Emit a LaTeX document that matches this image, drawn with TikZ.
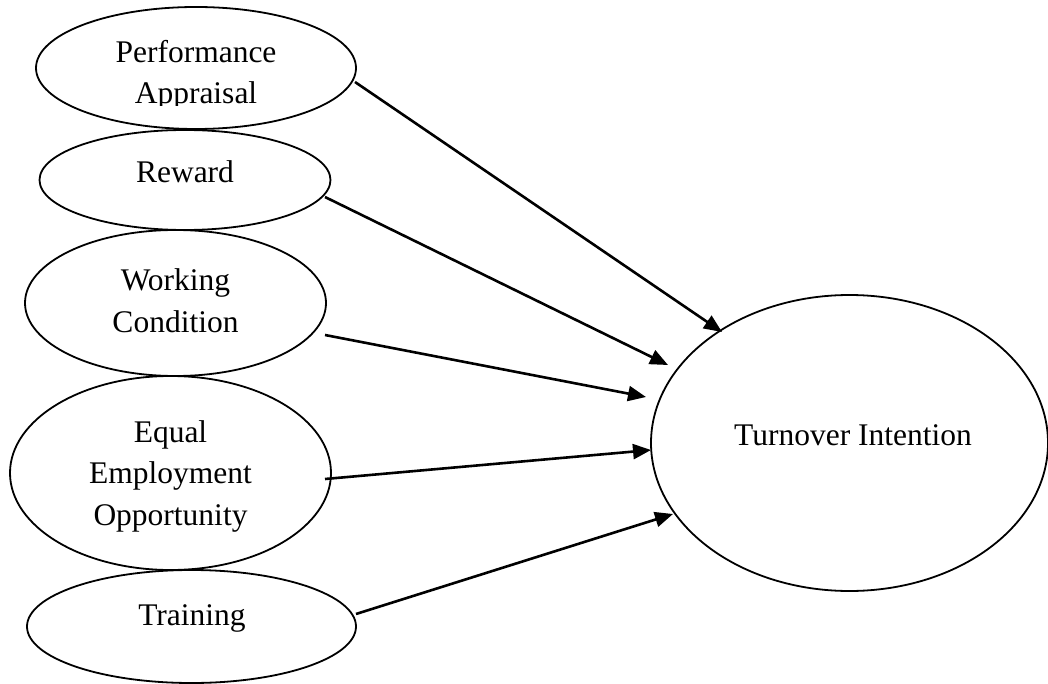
\documentclass[tikz,border=0pt]{standalone}
\usepackage{fontspec}
\setmainfont{Liberation Serif}
\usetikzlibrary{shapes.geometric,arrows.meta}
\begin{document}
\begin{tikzpicture}[x=1pt,y=-1pt,
  ell/.style={draw,ellipse,line width=1.8pt,inner sep=0pt,fill=white},
  lbl/.style={font=\fontsize{31.5}{41.5}\selectfont,align=center,anchor=base,inner sep=0pt},
  conn/.style={line width=2.6pt,-{Triangle[length=18pt,width=15pt]}}]
\useasboundingbox[fill=white] (0,0) rectangle (1048,684);
% ellipses
\node[ell,minimum width=320pt,minimum height=122pt] (pa) at (196,68) {};
\node[ell,minimum width=291pt,minimum height=100pt] (rw) at (185,180) {};
\node[ell,minimum width=301pt,minimum height=146pt] (wc) at (175.5,303) {};
\node[ell,minimum width=321pt,minimum height=194pt] (eo) at (170.5,473) {};
\node[ell,minimum width=329pt,minimum height=113pt] (tr) at (191.5,626.5) {};
\node[ell,minimum width=397pt,minimum height=296pt] (ti) at (849.5,443) {};
% texts (anchor = baseline of the last line)
\begin{scope}
\clip (0,0) rectangle (400,106);
\node[lbl] (paT) at (196,104) {Performance\\Appraisal};
\end{scope}
\node[lbl] (rwT) at (185,183) {Reward};
\node[lbl] (wcT) at (175.5,332) {Working\\Condition};
\node[lbl] (eoT) at (170.5,525) {Equal\\Employment\\Opportunity};
\node[lbl] (trT) at (192,625) {Training};
\node[lbl] (tiT) at (853,445) {Turnover Intention};
% connector end points
\coordinate (s1) at (355,82);  \coordinate (e1) at (722,332);
\coordinate (s2) at (325,197); \coordinate (e2) at (668,365);
\coordinate (s3) at (325,335); \coordinate (e3) at (646,397);
\coordinate (s4) at (325,479); \coordinate (e4) at (651,450);
\coordinate (s5) at (356,614); \coordinate (e5) at (673,514);
\draw[conn] (s1) -- (e1);
\draw[conn] (s2) -- (e2);
\draw[conn] (s3) -- (e3);
\draw[conn] (s4) -- (e4);
\draw[conn] (s5) -- (e5);
\end{tikzpicture}
\end{document}
